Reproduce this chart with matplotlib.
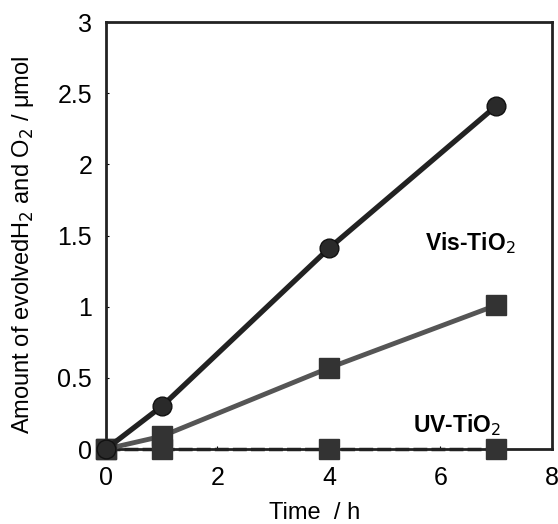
import matplotlib.pyplot as plt

plt.rcParams['font.family'] = ['Liberation Sans', 'DejaVu Sans']

time_h = [0, 1, 4, 7]
vis_circle = [0, 0.30, 1.41, 2.41]
vis_square = [0, 0.09, 0.57, 1.01]
uv_square = [0, 0, 0, 0]

fig = plt.figure(figsize=(5.58, 5.24), dpi=100)
ax = fig.add_axes([0.19, 0.143, 0.799, 0.815])

ax.plot(time_h, uv_square, color='#222222', lw=2.5, ls=(0, (4, 1.2)),
        marker='s', ms=15, mfc='#333333', mec='#333333', clip_on=False, zorder=3)
ax.plot(time_h, vis_square, color='#555555', lw=3.5, marker='s', ms=15,
        mfc='#333333', mec='#333333', clip_on=False, zorder=4)
ax.plot(time_h, vis_circle, color='#222222', lw=3.8, marker='o', ms=13.5,
        mfc='#2a2a2a', mec='#111111', clip_on=False, zorder=5)

ax.text(5.72, 1.45, 'Vis-TiO$_2$', fontsize=16.5, fontweight='bold', va='center')
ax.text(5.5, 0.17, 'UV-TiO$_2$', fontsize=16.5, fontweight='bold', va='center')

ax.set_xlim(0, 8)
ax.set_ylim(0, 3)
ax.set_xticks([0, 2, 4, 6, 8])
ax.set_yticks([0, 0.5, 1, 1.5, 2, 2.5, 3])
ax.set_yticklabels(['0', '0.5', '1', '1.5', '2', '2.5', '3'])
ax.tick_params(direction='in', length=2, width=0.8, labelsize=18)
ax.tick_params(axis='x', pad=12)
ax.tick_params(axis='y', pad=10)
for s in ax.spines.values():
    s.set_linewidth(2)
    s.set_color('#222222')

ax.set_xlabel('Time  / h', fontsize=17)
ax.set_ylabel('Amount of evolvedH$_2$ and O$_2$ / \u03bcmol', fontsize=17)
ax.xaxis.set_label_coords(0.469, -0.125)
ax.yaxis.set_label_coords(-0.157, 0.478)

fig.savefig('out.png', dpi=100)
